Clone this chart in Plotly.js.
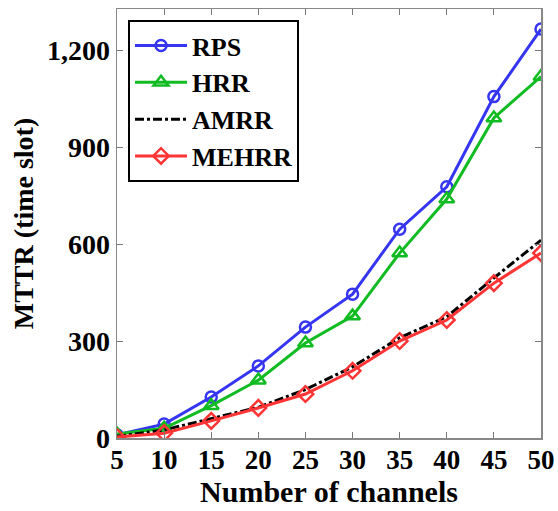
<!DOCTYPE html>
<html>
<head>
<meta charset="utf-8">
<script src="https://cdn.plot.ly/plotly-3.0.1.min.js"></script>
<style>html,body{margin:0;padding:0;background:#fff;}</style>
</head>
<body>
<div id="chart" style="width:558px;height:511px;"></div>
<script>
// Mean time to rendezvous versus number of channels
const channels = [5, 10, 15, 20, 25, 30, 35, 40, 45, 50];
const rps   = [10, 43, 127, 223, 343, 445, 646, 777, 1056, 1265];
const hrr   = [12, 30, 100, 179, 294, 377, 572, 739, 990, 1118];
const amrr  = [5, 25, 60, 95, 150, 220, 310, 375, 495, 612];
const mehrr = [3, 15, 53, 93, 136, 208, 300, 365, 479, 572];
const yTicks = [0, 300, 600, 900, 1200];

const font = {family: '"Liberation Serif", "Times New Roman", serif', color: '#000'};
const bold = (size) => Object.assign({size: size, weight: 'bold'}, font);

const traces = [
  {x: channels, y: rps, name: 'RPS', mode: 'lines+markers',
   line: {color: '#3535f2', width: 3},
   marker: {symbol: 'circle-open', size: 11, color: '#3535f2', line: {width: 2.5}}},
  {x: channels, y: hrr, name: 'HRR', mode: 'lines+markers',
   line: {color: '#11bb22', width: 3},
   marker: {symbol: 'triangle-up-open', size: 13, color: '#11bb22', line: {width: 2.5}}},
  {x: channels, y: amrr, name: 'AMRR', mode: 'lines',
   line: {color: '#000000', width: 3, dash: 'dashdot'}},
  {x: channels, y: mehrr, name: 'MEHRR', mode: 'lines+markers',
   line: {color: '#ff3535', width: 3},
   marker: {symbol: 'diamond-open', size: 12, color: '#ff3535', line: {width: 2.5}}}
];

const layout = {
  width: 558, height: 511,
  margin: {l: 117, r: 17, t: 9, b: 73},
  paper_bgcolor: '#fff', plot_bgcolor: '#fff',
  font: Object.assign({size: 20}, font),
  showlegend: true,
  legend: {
    x: 0.026, y: 0.974, xanchor: 'left', yanchor: 'top',
    bgcolor: '#fff', bordercolor: '#000', borderwidth: 2,
    font: bold(26),
    itemwidth: 52, tracegroupgap: 0
  },
  xaxis: {
    range: [5, 50], tickvals: channels, ticks: 'inside', ticklen: 6,
    tickcolor: '#777', linecolor: '#888', linewidth: 1.5, mirror: 'ticks',
    showgrid: false, zeroline: false, ticklabelstandoff: -3,
    tickfont: bold(27),
    title: {text: 'Number of channels', standoff: 2, font: bold(30)}
  },
  yaxis: {
    range: [0, 1327], tickvals: yTicks, tickformat: ',', ticks: 'inside', ticklen: 6,
    tickcolor: '#777', linecolor: '#888', linewidth: 1.5, mirror: 'ticks',
    showgrid: false, zeroline: false,
    tickfont: bold(28),
    title: {text: 'MTTR (time slot)', standoff: 5, font: bold(28)}
  }
};

Plotly.newPlot('chart', traces, layout, {displayModeBar: false, staticPlot: true});
</script>
</body>
</html>
